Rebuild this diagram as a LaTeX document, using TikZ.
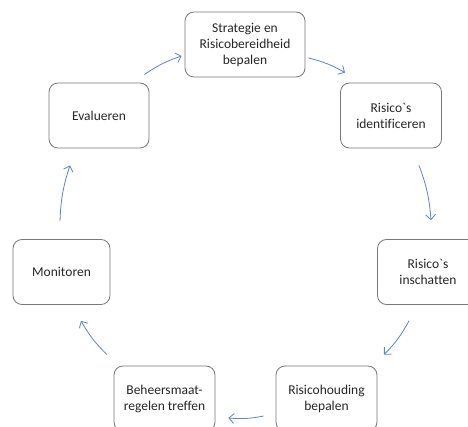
\documentclass[tikz,border=0pt]{standalone}
\usepackage{fontspec}
\setmainfont[Ligatures={NoCommon}]{Carlito}
\usepackage{tikz}
\usetikzlibrary{arrows.meta,calc}
\definecolor{pijlblauw}{RGB}{90,130,210}
\definecolor{randgrijs}{RGB}{120,120,120}

\begin{document}
\begin{tikzpicture}[x=1pt,y=-1pt,
		font=\fontsize{13.5}{16}\selectfont]
		\tikzstyle{stap}=[draw=randgrijs,rounded corners=9pt,line width=0.8pt,
		minimum width=101pt,minimum height=65pt,align=center,text=black!85,inner sep=2pt]
		\tikzstyle{pijl}=[draw=pijlblauw,line width=0.8pt,
		-{Straight Barb[length=5pt,width=10pt]},bend left=8]
		
		\clip (0,0) rectangle (468,427);
		
		\node[stap,minimum width=120pt] (strat) at (245,44.5)   {Strategie en\\Risicobereidheid\\bepalen};
		\node[stap] (ident) at (391,115.5)  {Risico\textasciigrave s\\identificeren};
		\node[stap] (insch) at (428,272)    {Risico\textasciigrave s\\inschatten};
		\node[stap] (houd)  at (326.5,398.5) {Risicohouding\\bepalen};
		\node[stap] (beh)   at (164.5,398.5) {Beheersmaat-\\regelen treffen};
		\node[stap,minimum width=97pt] (mon) at (61.5,272) {Monitoren};
		\node[stap,minimum width=100pt] (eval) at (99,115.5) {Evalueren};
		
		% pijlen in de cyclus
		\draw[pijl] ($(eval.north east)+(-5,-8)$) to ($(strat.west)+(-3,11.5)$);
		\draw[pijl] ($(strat.east)+(3,13.5)$) to ($(ident.north)+(-46,-10)$);
		\draw[pijl] ($(ident.south)+(28,17)$) to ($(insch.north)+(3,-19)$);
		\draw[pijl] ($(insch.south)+(-19,16)$) to ($(houd.north)+(57.5,-11)$);
		\draw[pijl] ($(houd.west)+(-12,17.5)$) to ($(beh.east)+(13,19.5)$);
		\draw[pijl] ($(beh.north)+(-57.5,-11)$) to ($(mon.south)+(19.5,16)$);
		\draw[pijl] ($(mon.north)+(-1.5,-18)$) to ($(eval.south)+(-29,17)$);
\end{tikzpicture}
\end{document}
